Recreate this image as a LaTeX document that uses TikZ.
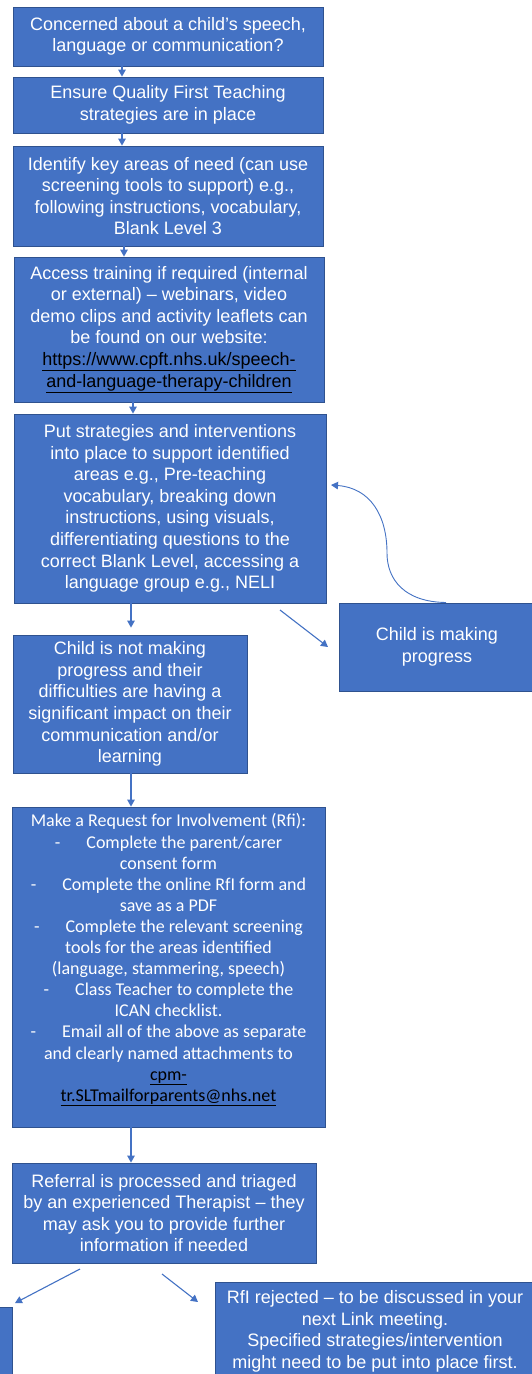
\documentclass[tikz,border=0pt]{standalone}
\usepackage{fontspec}
\setmainfont{Liberation Sans}
\newfontfamily\calibri{Carlito}
\usetikzlibrary{arrows.meta,calc}
\definecolor{boxblue}{HTML}{4472C4}
\definecolor{boxedge}{HTML}{2F528F}
\newcommand{\lnk}[1]{{\color{black}\underline{#1}}}
\begin{document}
\begin{tikzpicture}[x=1pt,y=-1pt,
  box/.style={draw=boxedge,line width=0.8pt,fill=boxblue,text=white,align=center,inner sep=0pt,
    font=\fontsize{18}{21.6}\selectfont},
  cbox/.style={box,font=\calibri\fontsize{18}{21.1}\selectfont},
  plain/.style={draw=none,fill=none,text=white,align=center,inner sep=0pt},
  arr/.style={draw=boxblue,line width=1.1pt,-{Triangle[width=7.5pt,length=7pt]}}]
\useasboundingbox (0,0) rectangle (531,1374);
\fill[white] (0,0) rectangle (531,1374);

\node[box,minimum width=310pt,minimum height=59pt] (b1) at (168,36.5)
  {Concerned about a child’s speech,\\language or communication?};
\node[box,minimum width=310pt,minimum height=56pt] (b2) at (168,105)
  {Ensure Quality First Teaching\\strategies are in place};
\node[box,minimum width=310pt,minimum height=100pt] (b3) at (168,196)
  {Identify key areas of need (can use\\screening tools to support) e.g.,\\following instructions, vocabulary,\\Blank Level 3};
\node[box,minimum width=310pt,minimum height=145pt] (b4) at (169,329.5)
  {Access training if required (internal\\or external) – webinars, video\\demo clips and activity leaflets can\\be found on our website:\\\lnk{https://www.cpft.nhs.uk/speech-}\\\lnk{and-language-therapy-children}};
\node[box,minimum width=312pt,minimum height=189pt] (b5) at (170,508.5)
  {Put strategies and interventions\\into place to support identified\\areas e.g., Pre-teaching\\vocabulary, breaking down\\instructions, using visuals,\\differentiating questions to the\\correct Blank Level, accessing a\\language group e.g., NELI};
\node[box,minimum width=234pt,minimum height=138pt] (b6) at (130,704)
  {Child is not making\\progress and their\\difficulties are having a\\significant impact on their\\communication and/or\\learning};
\node[box,minimum width=196pt,minimum height=88pt] (bp) at (437,647)
  {Child is making\\progress};
\node[cbox,minimum width=313pt,minimum height=320pt] (b7) at (168.5,967) {};
\node[plain,font=\calibri\fontsize{18}{21.1}\selectfont] (t7) at ($(b7.center)+(0,-7)$)
  {Make a Request for Involvement (Rfi):\\
   -\hspace{26pt}Complete the parent/carer\\
   consent form\\
   -\hspace{26pt}Complete the online RfI form and\\
   save as a PDF\\
   -\hspace{26pt}Complete the relevant screening\\
   tools for the areas identified\\
   (language, stammering, speech)\\
   -\hspace{26pt}Class Teacher to complete the\\
   ICAN checklist.\\
   -\hspace{26pt}Email all of the above as separate\\
   and clearly named attachments to\\
   \lnk{cpm-}\\
   \lnk{tr.SLTmailforparents@nhs.net}};
\node[box,minimum width=304pt,minimum height=100pt] (b8) at (164,1213)
  {Referral is processed and triaged\\by an experienced Therapist – they\\may ask you to provide further\\information if needed};
\node[box,minimum width=112pt,minimum height=74pt] (bl) at (-44,1344) {};
\node[box,minimum width=320pt,minimum height=99pt] (br) at (375,1331.5)
  {RfI rejected – to be discussed in your\\next Link meeting.\\Specified strategies/intervention\\might need to be put into place first.};

\coordinate (ax1) at (122,0);
\coordinate (ax2) at (124,0);
\coordinate (ax3) at (133,0);
\coordinate (ax4) at (131,0);
\draw[arr] (b1.south -| ax1) -- (b2.north -| ax1);
\draw[arr] (b2.south -| ax1) -- (b3.north -| ax1);
\draw[arr] (b3.south -| ax2) -- (b4.north -| ax2);
\draw[arr] (b4.south -| ax3) -- (b5.north -| ax3);
\draw[arr] (b5.south -| ax4) -- ($(b6.north -| ax4)+(0,-7)$);
\draw[arr] (b6.south -| ax4) -- (b7.north -| ax4);
\draw[arr] (b7.south -| ax4) -- (b8.north -| ax4);

\coordinate (d1s) at (280,610);
\coordinate (d1e) at (328,647);
\draw[arr] (d1s) -- (d1e);
\coordinate (cs) at (446,602.5);
\coordinate (ce) at (331,485);
\draw[arr,line width=0.9pt] (cs) .. controls (405,602) and (387,580) .. (387,553)
   .. controls (387,515) and (370,488) .. (ce);

\coordinate (d2s) at (80,1269);
\coordinate (d2e) at (15,1303);
\draw[arr] (d2s) -- (d2e);
\coordinate (d3s) at (162,1274);
\coordinate (d3e) at (198,1302);
\draw[arr] (d3s) -- (d3e);
\end{tikzpicture}
\end{document}
